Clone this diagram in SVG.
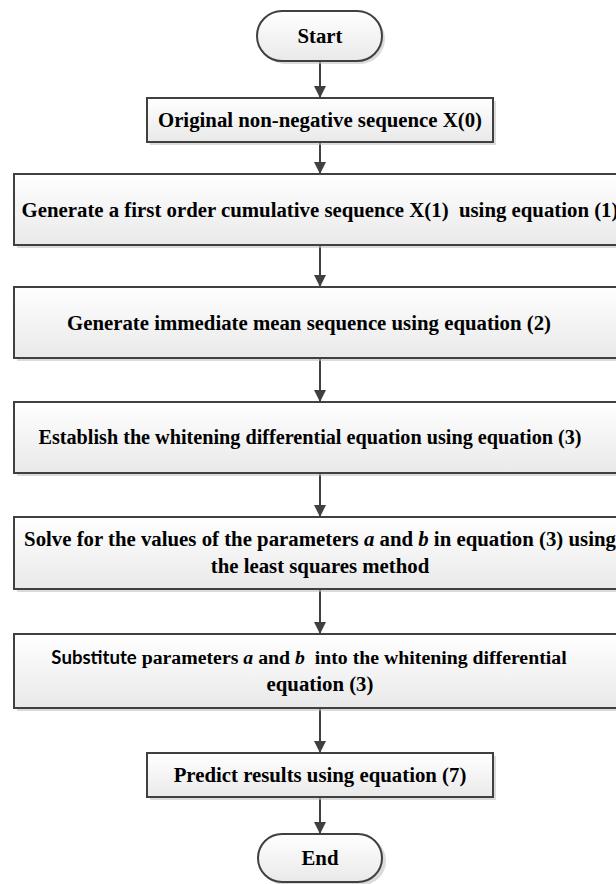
<svg xmlns="http://www.w3.org/2000/svg" width="616" height="884" viewBox="0 0 616 884">
<defs>
<linearGradient id="g" x1="0" y1="0" x2="0" y2="1">
<stop offset="0" stop-color="#ffffff"/>
<stop offset="1" stop-color="#e9e9e9"/>
</linearGradient>
<marker id="ah" markerWidth="12" markerHeight="12" refX="11" refY="6" orient="auto" markerUnits="userSpaceOnUse">
<path d="M0,0 L12,6 L0,12 Z" fill="#404040"/>
</marker>
<style>
.shape{fill:url(#g);stroke:#404040;stroke-width:2}
.sh{fill:#bdbdbd;opacity:0.55}
.t{font-family:"Liberation Serif","Times New Roman",serif;font-weight:bold;font-size:20.8px;fill:#000;text-anchor:middle}
.s{font-family:Lato,"Liberation Sans",sans-serif;font-weight:bold;font-size:18.6px}
.i{font-style:italic}
.c{stroke:#404040;stroke-width:2;fill:none;marker-end:url(#ah)}
</style>
</defs>
<rect width="616" height="884" fill="#ffffff"/>

<g id="connectors">
<line class="c" x1="320" y1="61" x2="320" y2="97"/>
<line class="c" x1="320" y1="142" x2="320" y2="173"/>
<line class="c" x1="320" y1="245" x2="320" y2="286"/>
<line class="c" x1="320" y1="358" x2="320" y2="401"/>
<line class="c" x1="320" y1="473" x2="320" y2="516"/>
<line class="c" x1="320" y1="589" x2="320" y2="633"/>
<line class="c" x1="320" y1="708" x2="320" y2="752"/>
<line class="c" x1="320" y1="797" x2="320" y2="833"/>
</g>

<g id="start">
<rect class="sh" x="260" y="14" width="125" height="50" rx="25"/>
<rect class="shape" x="257" y="11" width="125" height="50" rx="25"/>
<text class="t" x="320" y="43">Start</text>
</g>

<g id="n1">
<rect class="sh" x="150" y="101" width="346" height="44"/>
<rect class="shape" x="147" y="98" width="346" height="44"/>
<text class="t" x="320" y="127">Original non-negative sequence X(0)</text>
</g>

<g id="n2">
<rect class="sh" x="17" y="177" width="612" height="71"/>
<rect class="shape" x="14" y="174" width="612" height="71"/>
<text class="t" x="320" y="217" xml:space="preserve">Generate a first order cumulative sequence X(1)  using equation (1)</text>
</g>

<g id="n3">
<rect class="sh" x="17" y="290" width="612" height="71"/>
<rect class="shape" x="14" y="287" width="612" height="71"/>
<text class="t" x="309" y="330">Generate immediate mean sequence using equation (2)</text>
</g>

<g id="n4">
<rect class="sh" x="17" y="405" width="612" height="71"/>
<rect class="shape" x="14" y="402" width="612" height="71"/>
<text class="t" x="310" y="444" style="font-size:20.2px">Establish the whitening differential equation using equation (3)</text>
</g>

<g id="n5">
<rect class="sh" x="17" y="520" width="612" height="72"/>
<rect class="shape" x="14" y="517" width="612" height="72"/>
<text class="t" x="320" y="546">Solve for the values of the parameters <tspan class="i">a</tspan> and <tspan class="i">b</tspan> in equation (3) using</text>
<text class="t" x="320" y="573">the least squares method</text>
</g>

<g id="n6">
<rect class="sh" x="17" y="637" width="612" height="74"/>
<rect class="shape" x="14" y="634" width="612" height="74"/>
<text class="t" x="309" y="664" style="font-size:19.8px" xml:space="preserve"><tspan class="s">Substitute</tspan> parameters <tspan class="i">a</tspan> and <tspan class="i">b</tspan>  into the whitening differential</text>
<text class="t" x="320" y="691">equation (3)</text>
</g>

<g id="n7">
<rect class="sh" x="150" y="756" width="346" height="44"/>
<rect class="shape" x="147" y="753" width="346" height="44"/>
<text class="t" x="320" y="782">Predict results using equation (7)</text>
</g>

<g id="end">
<rect class="sh" x="261" y="837" width="125" height="48" rx="24"/>
<rect class="shape" x="258" y="834" width="124" height="48" rx="24"/>
<text class="t" x="320" y="865">End</text>
</g>
</svg>
